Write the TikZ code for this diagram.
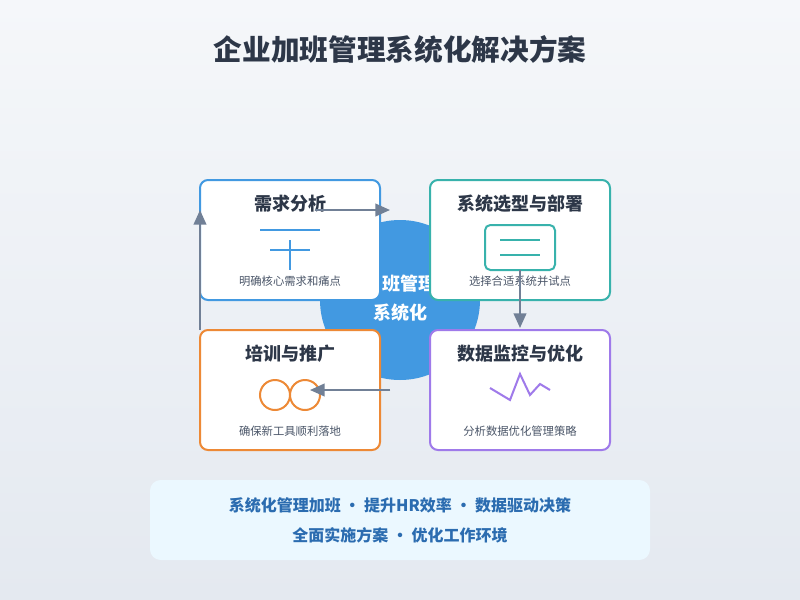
\documentclass[tikz,border=0pt]{standalone}
\usepackage{fontspec}
\setmainfont{Noto Sans CJK SC}
\usetikzlibrary{arrows.meta,positioning}
\definecolor{ink}{HTML}{2D3748}
\definecolor{mute}{HTML}{4A5568}
\definecolor{flow}{HTML}{718096}
\definecolor{cblue}{HTML}{4299E1}
\definecolor{cteal}{HTML}{38B2AC}
\definecolor{corange}{HTML}{ED8936}
\definecolor{cpurple}{HTML}{9F7AEA}
\definecolor{panel}{HTML}{EBF8FF}
\definecolor{paneltext}{HTML}{2B6CB0}
\definecolor{bgtop}{HTML}{F5F7FA}
\definecolor{bgbot}{HTML}{E4E9F0}

\begin{document}
\begin{tikzpicture}[%
    x=0.75pt, y=-0.75pt,        % work in pixels, top-down
    >={Triangle[length=11pt,width=9.5pt]},
    ]
% -------------------------------------------------
% Styles
\tikzset{
  card/.style={line width=1.5pt, fill=white, rounded corners=6pt},
  head/.style={font=\fontsize{13.5}{16}\selectfont\bfseries, text=ink},
  note/.style={font=\fontsize{8.5}{10}\selectfont, text=mute},
  icon/.style={line width=1.5pt},
  flowline/.style={->, draw=flow, fill=flow, line width=1.5pt},
}
% -------------------------------------------------
% Background and title
\shade[top color=bgtop, bottom color=bgbot] (0,0) rectangle (800,600);
\useasboundingbox (0,0) rectangle (800,600);
\node [font=\fontsize{21.5}{24}\selectfont\bfseries, text=ink] (title) at (400,50) {企业加班管理系统化解决方案};

% Centre disc
\fill [cblue] (400,300) circle (80);
\node [font=\fontsize{13.5}{22}\selectfont\bfseries, text=white, align=center] (core) at (400,298) {加班管理\\系统化};

% -------------------------------------------------
% The four stages
\draw [card, draw=cblue] (200,180) rectangle (380,300);
\node [head] (need) at (290,204) {需求分析};
\node [note] (needtxt) at (290,281) {明确核心需求和痛点};
\draw [icon, cblue] (260,230) -- (320,230) (270,250) -- (310,250) (290,240) -- (290,270);

\draw [card, draw=cteal] (430,180) rectangle (610,300);
\node [head] (pick) at (520,204) {系统选型与部署};
\node [note] (picktxt) at (520,281) {选择合适系统并试点};
\draw [icon, cteal, rounded corners=4pt] (485,225) rectangle (555,270);
\draw [icon, cteal] (500,240) -- (540,240) (500,255) -- (540,255);
\coordinate (pickout) at (520,270);

\draw [card, draw=cpurple] (430,330) rectangle (610,450);
\node [head] (watch) at (520,354) {数据监控与优化};
\node [note] (watchtxt) at (520,431) {分析数据优化管理策略};
\draw [icon, cpurple] (490,388) -- (510,400) -- (520,374) -- (530,395) -- (540,384) -- (550,390);

\draw [card, draw=corange] (200,330) rectangle (380,450);
\node [head] (train) at (290,354) {培训与推广};
\node [note] (traintxt) at (290,431) {确保新工具顺利落地};
\draw [icon, corange] (275,395) circle (15) (305,395) circle (15);

% -------------------------------------------------
% Connectors round the cycle
\coordinate (a1) at (315,210); \coordinate (a2) at (390,210);
\coordinate (b2) at (520,328);
\coordinate (c1) at (390,390); \coordinate (c2) at (310,390);
\coordinate (d1) at (200,330); \coordinate (d2) at (200,210);
\draw [flowline] (a1) -- (a2);
\draw [flowline] (pickout) -- (b2);
\draw [flowline] (c1) -- (c2);
\draw [flowline] (d1) -- (d2);

% -------------------------------------------------
% Summary panel
\fill [panel, rounded corners=8pt] (150,480) rectangle (650,560);
\node [font=\fontsize{12}{14}\selectfont\bfseries, text=paneltext] (sum1) at (400,505) {系统化管理加班 · 提升HR效率 · 数据驱动决策};
\node [font=\fontsize{12}{14}\selectfont\bfseries, text=paneltext] (sum2) at (400,535) {全面实施方案 · 优化工作环境};
\end{tikzpicture}
\end{document}
